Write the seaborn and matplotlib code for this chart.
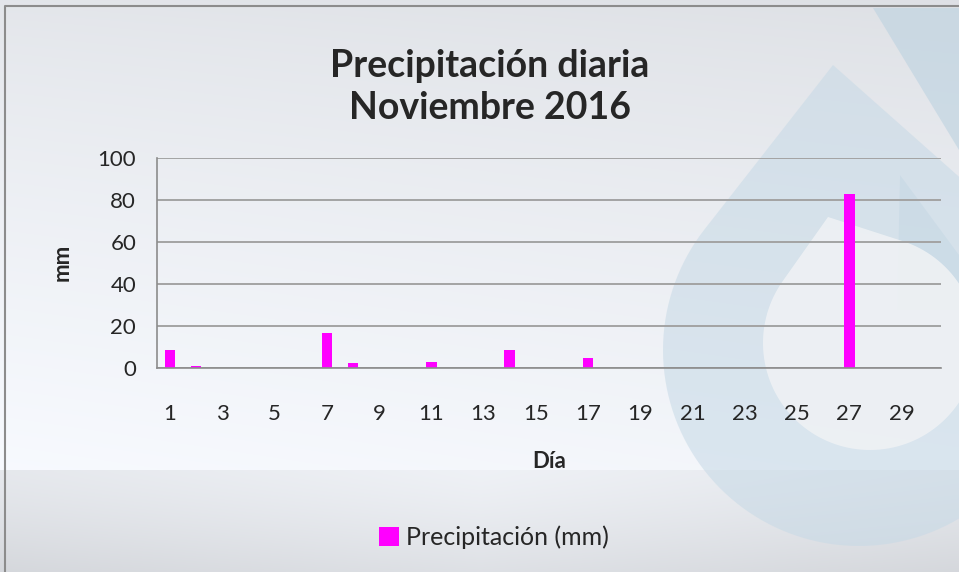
import matplotlib
matplotlib.use("Agg")
import matplotlib.pyplot as plt
import matplotlib.patches as mpatches
import numpy as np
import pandas as pd
import seaborn as sns

# daily rain, november 2016 (mm)
days = list(range(1, 31))
rain = [8.2, 0.6, 0, 0, 0, 0, 16.6, 2.2, 0, 0,
        2.4, 0, 0, 8.4, 0, 0, 4.5, 0, 0, 0,
        0, 0, 0, 0, 0, 0, 82.7, 0, 0, 0]
y_ticks = [0, 20, 40, 60, 80, 100]

BAR_COLOR = "#ff00ff"
GRID_COLOR = "#a3a3a3"
AXIS_COLOR = "#8c8c8c"
W, H = 959, 572

sns.set_style("white")
plt.rcParams["font.family"] = ["Lato", "DejaVu Sans"]

df = pd.DataFrame({"Día": days, "Precipitación (mm)": rain})


def drop_shape(tip, center, r, **kw):
    # tip + tangent lines + circle arc -> a drop outline
    tx, ty = tip
    cx, cy = center
    d = np.hypot(tx - cx, ty - cy)
    phi = np.arctan2(ty - cy, tx - cx)
    a = np.arccos(r / d)
    ang = np.linspace(phi + a, phi + 2 * np.pi - a, 120)
    pts = [[tx, ty]] + [[cx + r * np.cos(t), cy + r * np.sin(t)] for t in ang]
    return mpatches.Polygon(pts, closed=True, lw=0, **kw)


fig = plt.figure(figsize=(W / 100, H / 100), dpi=100)

# background: soft gradient with the pale drop logo, in pixel coords
bg = fig.add_axes([0, 0, 1, 1], zorder=0)
px, py = np.meshgrid(np.arange(W), np.arange(H))
v = 0.89 + 0.08 * (py / 470.0) ** 0.8 + 0.02 * (1 - px / W)
low = 0.955 - 0.065 * ((py - 470) / 102.0) ** 1.3 - 0.035 * np.abs(px - 480) / 480
v = np.where(py >= 470, low, v)
img = np.dstack([v - 0.02, v - 0.01, v + 0.008])
bg.imshow(np.clip(img, 0, 1), extent=[0, W, H, 0], aspect="auto")

bg.add_patch(mpatches.Polygon([[873, 8], [959, 8], [959, 150]], color="#bcd2e0", alpha=0.6, lw=0))
bg.add_patch(mpatches.Polygon([[900, 175], [959, 255], [959, 310], [897, 310]],
                              color="#bcd2e0", alpha=0.45, lw=0))
bg.add_patch(drop_shape((833, 65), (859, 350), 196, color="#c6d9e6", alpha=0.55))
bg.add_patch(drop_shape((828, 217), (870, 343), 107, color="#eef1f4", alpha=0.92))
bg.set_xlim(0, W)
bg.set_ylim(H, 0)
bg.axis("off")
bg.plot([5, 5, W], [H, 6, 6], color="#8c8c8c", lw=1.5)

ax = fig.add_axes([0.1637, 0.3575, 0.8173, 0.3663], zorder=1)
ax.patch.set_alpha(0)
sns.barplot(data=df, x="Día", y="Precipitación (mm)", color=BAR_COLOR, width=0.4,
            saturation=1, ax=ax, label="Precipitación (mm)", edgecolor="none", linewidth=0)
handles, labels = ax.get_legend_handles_labels()
if ax.get_legend() is not None:
    ax.get_legend().remove()

ax.set_xlim(-0.5, 29.5)
ax.set_ylim(0, 100)
ax.set_yticks(y_ticks)
ax.yaxis.grid(True, color=GRID_COLOR, lw=1.4)
ax.set_axisbelow(True)

odd_pos = [i for i, d in enumerate(days) if d % 2 == 1]
ax.set_xticks(odd_pos)
ax.set_xticklabels([str(days[i]) for i in odd_pos])
ax.set_xticks(np.arange(-0.5, 30, 1), minor=True)
ax.tick_params(axis="x", which="major", length=0, pad=26, labelsize=16)
ax.tick_params(axis="x", which="minor", length=7, color=AXIS_COLOR, width=1.2, direction="out")
ax.tick_params(axis="y", length=7, color=AXIS_COLOR, width=1.2, labelsize=16, pad=8, direction="out")

for side in ["top", "right"]:
    ax.spines[side].set_visible(False)
for side in ["left", "bottom"]:
    ax.spines[side].set_color(AXIS_COLOR)
    ax.spines[side].set_linewidth(1.2)

ax.set_xlabel("Día", fontsize=16, fontweight="bold", labelpad=20)
ax.set_ylabel("mm", fontsize=16, fontweight="bold", labelpad=18)

fig.text(0.511, 0.848, "Precipitación diaria\nNoviembre 2016", ha="center", va="center",
         fontsize=27, fontweight="bold", linespacing=1.3)

fig.legend(handles, labels, loc="center", bbox_to_anchor=(0.515, 0.061), frameon=False,
           fontsize=18, handlelength=0.8, handleheight=0.8, handletextpad=0.3)

fig.savefig("out.png", dpi=100)
